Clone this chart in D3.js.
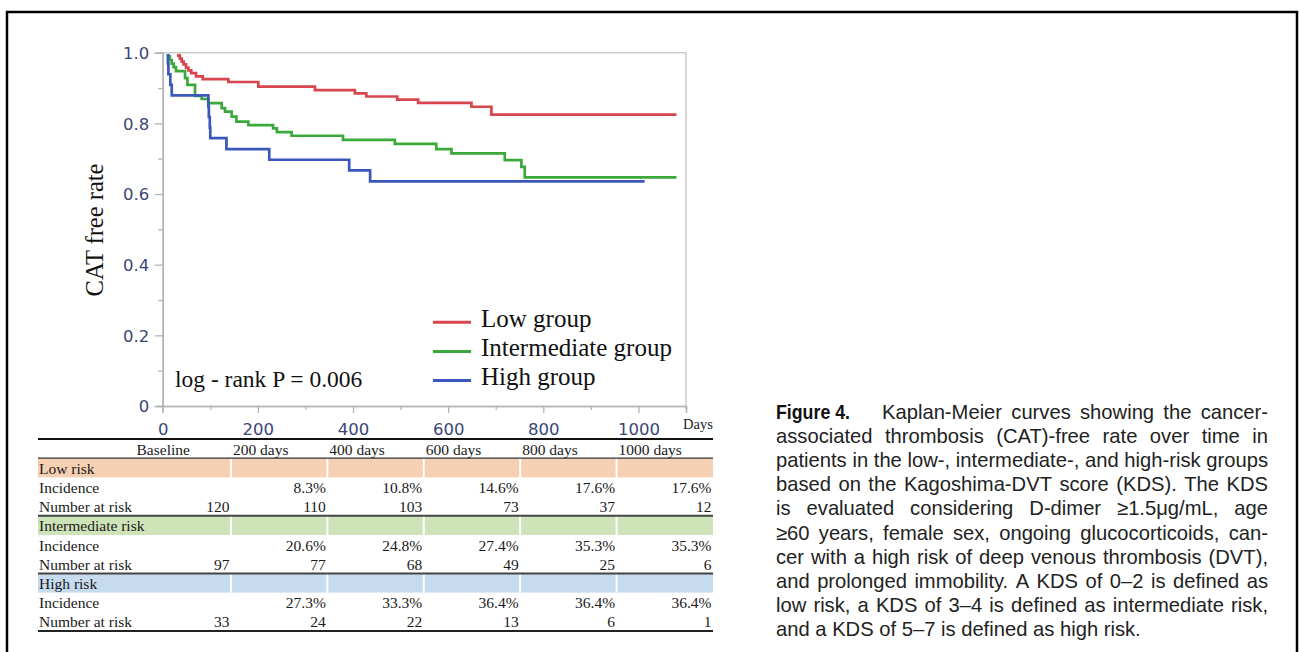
<!DOCTYPE html>
<html><head><meta charset="utf-8">
<script src="https://cdn.jsdelivr.net/npm/d3@7"></script>
<style>body{margin:0;background:#fff;} svg{display:block}</style>
</head><body>
<svg id="c" width="1299" height="652"></svg>
<script>
// ---------------- data ----------------
const seriesNames = ["Low group", "Intermediate group", "High group"];
const lowTimes  = [0,33,36,40,44,49,54,60,70,84,138,201,320,404,428,493,537,649,691];
const lowSurv   = [1,0.992,0.983,0.975,0.967,0.958,0.950,0.942,0.933,0.925,0.917,0.904,0.894,0.885,0.876,0.867,0.858,0.847,0.825];
const lowEnd = 1080;
const midTimes  = [0,12,15,19,23,28,47,52,68,82,96,124,131,145,155,180,232,240,271,379,488,575,607,719,754,761];
const midSurv   = [1,0.990,0.979,0.969,0.959,0.948,0.928,0.909,0.878,0.869,0.857,0.843,0.833,0.819,0.805,0.795,0.786,0.775,0.765,0.753,0.742,0.727,0.715,0.696,0.677,0.647];
const midEnd = 1080;
const highTimes = [0,11,12,16,19,96,97,99,100,134,224,392,436];
const highSurv  = [1,0.970,0.939,0.909,0.879,0.848,0.818,0.788,0.758,0.727,0.697,0.667,0.636];
const highEnd = 1013;

const xTicks = [0,200,400,600,800,1000];
const xMinorTicks = [100,300,500,700,900,1100];
const yTicks = [0,0.2,0.4,0.6,0.8,1.0];
const yTickLabels = ["0","0.2","0.4","0.6","0.8","1.0"];
const yMinorTicks = [0.1,0.3,0.5,0.7,0.9];
const yTitle = "CAT free rate";
const xUnit = "Days";
const pText = "log - rank P = 0.006";

const tableCols = ["Baseline","200 days","400 days","600 days","800 days","1000 days"];
const riskGroups = ["Low risk","Intermediate risk","High risk"];
const lowIncidence  = ["","8.3%","10.8%","14.6%","17.6%","17.6%"];
const lowAtRisk     = ["120","110","103","73","37","12"];
const midIncidence  = ["","20.6%","24.8%","27.4%","35.3%","35.3%"];
const midAtRisk     = ["97","77","68","49","25","6"];
const highIncidence = ["","27.3%","33.3%","36.4%","36.4%","36.4%"];
const highAtRisk    = ["33","24","22","13","6","1"];

const captionLead = "Figure 4.";
const captionLines = [
  "Kaplan-Meier curves showing the cancer-",
  "associated thrombosis (CAT)-free rate over time in",
  "patients in the low-, intermediate-, and high-risk groups",
  "based on the Kagoshima-DVT score (KDS). The KDS",
  "is evaluated considering D-dimer \u22651.5\u03bcg/mL, age",
  "\u226560 years, female sex, ongoing glucocorticoids, can-",
  "cer with a high risk of deep venous thrombosis (DVT),",
  "and prolonged immobility. A KDS of 0\u20132 is defined as",
  "low risk, a KDS of 3\u20134 is defined as intermediate risk,",
  "and a KDS of 5\u20137 is defined as high risk."
];

// ---------------- drawing ----------------
const svg = d3.select("#c");
const serif = "'Liberation Serif','Times New Roman',serif";
const sans = "'Liberation Sans',Arial,sans-serif";
const colors = ["#d8454f", "#3aa93a", "#3a57bd"];
const bandColors = ["#f6d0b2", "#cfe3b9", "#c7dbef"];

// outer frame
svg.append("path").attr("d","M7,660V12H1297V660").attr("fill","none")
  .attr("stroke","#000").attr("stroke-width",2.5);

const x = d3.scaleLinear().domain([0,1100]).range([162.7,686]);
const y = d3.scaleLinear().domain([0,1]).range([406,52.7]);
const axisGray = "#b5b5b5";

// clip for curves (flat segment at 1.0 is hidden under the frame)
svg.append("defs").append("clipPath").attr("id","plotclip")
  .append("rect").attr("x",x(0)).attr("y",y(1)+1.4)
  .attr("width",x(1100)-x(0)).attr("height",y(0)-y(1)-1.4);

// plot frame (top + right)
svg.append("path")
  .attr("d",`M${x(0)},${y(1)}H${x(1100)}V${y(0)}`)
  .attr("fill","none").attr("stroke","#cccccc").attr("stroke-width",1.5);

// curves
const series = [
  {t: lowTimes, s: lowSurv, end: lowEnd},
  {t: midTimes, s: midSurv, end: midEnd},
  {t: highTimes, s: highSurv, end: highEnd}
];
const line = d3.line().x(d=>x(d[0])).y(d=>y(d[1])).curve(d3.curveStepAfter);
const curves = svg.append("g").attr("clip-path","url(#plotclip)");
series.forEach((ser,i)=>{
  const pts = ser.t.map((t,k)=>[t, ser.s[k]]);
  pts.push([ser.end, ser.s[ser.s.length-1]]);
  curves.append("path").datum(pts).attr("d", line)
    .attr("fill","none").attr("stroke",colors[i]).attr("stroke-width",2.7)
    .attr("stroke-linejoin","miter");
});

// axes
const tickFont = "'DejaVu Sans',Verdana,sans-serif";
const tickColor = "#3a4675";
const gy = svg.append("g").attr("transform",`translate(${x(0)},0)`)
  .call(d3.axisLeft(y).tickValues(yTicks).tickSize(8).tickPadding(5.5)
    .tickFormat((d,i)=>yTickLabels[i]));
const gyMinor = svg.append("g").attr("transform",`translate(${x(0)},0)`)
  .call(d3.axisLeft(y).tickValues(yMinorTicks).tickSize(4.5).tickFormat(""));
const gx = svg.append("g").attr("transform",`translate(0,${y(0)})`)
  .call(d3.axisBottom(x).tickValues(xTicks).tickSize(7).tickFormat(d3.format("d")));
const gxMinor = svg.append("g").attr("transform",`translate(0,${y(0)})`)
  .call(d3.axisBottom(x).tickValues(xMinorTicks).tickSize(4).tickFormat(""));
[gy,gyMinor,gx,gxMinor].forEach(g=>{
  g.select(".domain").attr("stroke",axisGray).attr("stroke-width",1.5);
  g.selectAll(".tick line").attr("stroke",axisGray).attr("stroke-width",1.3);
  g.selectAll("text").attr("font-family",tickFont).attr("font-size",16.5).attr("fill",tickColor);
});
gx.selectAll("text").attr("y",28.5).attr("dy",0);
gy.selectAll("text").attr("dy","0.36em");

// axis titles
svg.append("text").attr("transform","translate(103,230) rotate(-90)")
  .attr("text-anchor","middle").attr("font-family",serif).attr("font-size",24.5)
  .attr("fill","#111").text(yTitle);
svg.append("text").attr("x",683).attr("y",429.3)
  .attr("font-family",serif).attr("font-size",14.5).attr("fill","#222").text(xUnit);

// p value
svg.append("text").attr("x",175).attr("y",386.7)
  .attr("font-family",serif).attr("font-size",23.5).attr("fill","#111").text(pText);

// legend
const legY = d3.scalePoint().domain(seriesNames).range([322.3,380.5]);
seriesNames.forEach((n,i)=>{
  svg.append("line").attr("x1",433).attr("x2",471).attr("y1",legY(n)).attr("y2",legY(n))
    .attr("stroke",colors[i]).attr("stroke-width",3);
  svg.append("text").attr("x",481).attr("y",legY(n)+4.6)
    .attr("font-family",serif).attr("font-size",25).attr("fill","#111").text(n);
});

// ---------------- table ----------------
const rowY = d3.scaleBand().domain(d3.range(10)).range([439,631]);
const colX = d3.scaleBand().domain(tableCols).range([134.5,713]);
const bw = colX.bandwidth();
const tL = 38, tR = 713;
const tFont = 15.5;
const tbl = svg.append("g").attr("font-family",serif).attr("font-size",tFont).attr("fill","#1a1a1a");

const groupRows = [
  {name: riskGroups[0], inc: lowIncidence, risk: lowAtRisk},
  {name: riskGroups[1], inc: midIncidence, risk: midAtRisk},
  {name: riskGroups[2], inc: highIncidence, risk: highAtRisk}
];
// header
tableCols.forEach(c=>{
  tbl.append("text").attr("x",colX(c)+2).attr("y",rowY(0)+16).text(c);
});
groupRows.forEach((g,gi)=>{
  const r0 = 1 + gi*3;
  tbl.append("rect").attr("x",tL).attr("y",rowY(r0)).attr("width",tR-tL)
    .attr("height",rowY.bandwidth()).attr("fill",bandColors[gi]);
  tableCols.slice(1).forEach(c=>{
    tbl.append("line").attr("x1",colX(c)).attr("x2",colX(c))
      .attr("y1",rowY(r0)).attr("y2",rowY(r0)+rowY.bandwidth())
      .attr("stroke","#fff").attr("stroke-width",2);
  });
  tbl.append("text").attr("x",tL+1).attr("y",rowY(r0)+15.6).text(g.name);
  tbl.append("text").attr("x",tL+1).attr("y",rowY(r0+1)+15.6).text("Incidence");
  tbl.append("text").attr("x",tL+1).attr("y",rowY(r0+2)+15.6).text("Number at risk");
  tableCols.forEach((c,ci)=>{
    tbl.append("text").attr("x",colX(c)+bw-1.5).attr("y",rowY(r0+1)+15.6)
      .attr("text-anchor","end").text(g.inc[ci]);
    tbl.append("text").attr("x",colX(c)+bw-1.5).attr("y",rowY(r0+2)+15.6)
      .attr("text-anchor","end").text(g.risk[ci]);
  });
});
// rules
const rules = [[rowY(0),2,"#111"],[rowY(1),1.3,"#333"],[rowY(4),2,"#444"],[rowY(7),2,"#444"],[631,2,"#222"]];
rules.forEach(r=>{
  svg.append("line").attr("x1",tL).attr("x2",tR).attr("y1",r[0]).attr("y2",r[0])
    .attr("stroke",r[2]).attr("stroke-width",r[1]);
});

// ---------------- caption ----------------
const capX0 = 776, capX1 = 1268, capY0 = 419, capDy = 24.1, capFont = 20.2;
const cap = svg.append("g").attr("font-family",sans).attr("font-size",capFont).attr("fill","#222");
cap.append("text").attr("x",capX0).attr("y",capY0)
  .attr("font-family","'Liberation Sans Narrow','Arial Narrow',sans-serif")
  .attr("font-weight","bold").attr("font-size",20.5).attr("fill","#111")
  .attr("textLength",74).attr("lengthAdjust","spacingAndGlyphs").text(captionLead);
captionLines.forEach((ln,i)=>{
  const yy = capY0 + i*capDy;
  const start = i===0 ? 882 : capX0;
  if (i === captionLines.length-1) {
    cap.append("text").attr("x",start).attr("y",yy).text(ln);
    return;
  }
  const words = ln.split(" ");
  const nodes = words.map(w=>cap.append("text").attr("y",yy).text(w));
  const widths = nodes.map(n=>n.node().getComputedTextLength());
  const total = d3.sum(widths);
  const gap = (capX1 - start - total)/(words.length-1);
  let cx = start;
  nodes.forEach((n,k)=>{ n.attr("x",cx); cx += widths[k] + gap; });
});
</script>
</body></html>
